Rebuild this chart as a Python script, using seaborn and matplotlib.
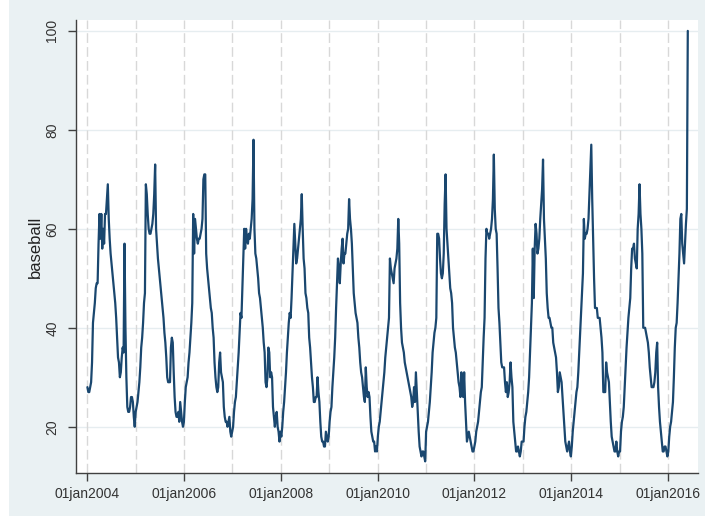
import pandas as pd
import matplotlib
matplotlib.use("Agg")
import matplotlib.pyplot as plt
from matplotlib.patches import Rectangle
import seaborn as sns

# weekly search interest for "baseball", one list per year
y2004 = [28, 27, 27, 28, 29, 33, 41, 43, 45, 48,
         49, 49, 57, 63, 58, 63, 56, 60, 57, 63,
         63, 66, 69, 62, 58, 55, 53, 51, 49, 47,
         45, 42, 38, 34, 33, 30, 31, 34, 36, 35,
         57, 40, 30, 24, 23, 23, 24, 26, 26, 25, 22, 20]
y2005 = [23, 24, 25, 27, 29, 32, 36, 38, 41, 45,
         47, 69, 67, 63, 60, 59, 59, 60, 61, 63,
         67, 73, 60, 57, 54, 52, 50, 48, 46, 44,
         42, 39, 37, 34, 30, 29, 29, 29, 36, 38,
         37, 31, 26, 23, 22, 22, 23, 21, 25, 23, 21, 20]
y2006 = [21, 25, 28, 29, 30, 33, 35, 38, 41, 45,
         63, 55, 62, 60, 58, 57, 58, 58, 59, 60,
         62, 70, 71, 71, 55, 52, 50, 48, 46, 44,
         43, 40, 38, 33, 30, 28, 27, 28, 33, 35,
         31, 30, 29, 24, 22, 21, 21, 20, 21, 22, 19, 18]
y2007 = [20, 23, 25, 26, 29, 32, 35, 39, 43, 42,
         48, 54, 60, 56, 60, 58, 57, 59, 58, 60,
         62, 66, 78, 60, 55, 54, 52, 50, 47, 46,
         44, 42, 40, 37, 35, 29, 28, 30, 36, 35,
         30, 31, 30, 24, 22, 20, 22, 23, 20, 19, 17, 19]
y2008 = [18, 20, 23, 25, 28, 31, 35, 38, 41, 43,
         42, 46, 51, 56, 61, 57, 53, 54, 56, 58,
         60, 62, 67, 60, 54, 52, 47, 46, 44, 43,
         38, 36, 33, 30, 28, 25, 25, 26, 26, 30,
         27, 25, 21, 18, 17, 17, 16, 16, 19, 18, 17, 18]
y2009 = [21, 23, 24, 28, 31, 34, 38, 44, 49, 54,
         52, 49, 53, 56, 58, 53, 55, 55, 57, 59,
         60, 66, 62, 60, 57, 52, 47, 45, 43, 42,
         41, 38, 36, 33, 31, 30, 28, 26, 25, 32,
         28, 26, 27, 26, 22, 19, 18, 17, 17, 15, 16, 15]
y2010 = [18, 20, 21, 23, 25, 27, 29, 31, 34, 36,
         38, 40, 42, 54, 52, 51, 50, 49, 52, 53,
         54, 56, 62, 57, 45, 40, 37, 36, 35, 33,
         32, 31, 30, 29, 28, 27, 26, 24, 25, 28,
         25, 31, 27, 23, 19, 16, 15, 14, 15, 15, 14, 13]
y2011 = [19, 20, 21, 23, 25, 28, 31, 35, 37, 39,
         40, 42, 59, 59, 58, 54, 51, 50, 51, 55,
         65, 71, 60, 57, 54, 51, 48, 47, 45, 40,
         38, 36, 35, 33, 31, 29, 28, 26, 31, 27,
         26, 31, 25, 21, 17, 18, 19, 18, 17, 16, 15, 15]
y2012 = [16, 17, 19, 20, 21, 23, 25, 27, 28, 33,
         38, 42, 54, 60, 59, 59, 58, 59, 60, 62,
         66, 75, 64, 60, 59, 52, 44, 41, 37, 33,
         32, 32, 32, 29, 27, 29, 26, 27, 29, 33,
         30, 28, 21, 19, 17, 15, 15, 16, 15, 14, 15, 17]
y2013 = [17, 20, 22, 23, 25, 27, 30, 35, 40, 45,
         56, 46, 56, 61, 59, 55, 56, 58, 62, 65,
         68, 74, 62, 58, 54, 47, 44, 42, 42, 41,
         40, 40, 37, 36, 35, 34, 31, 27, 28, 31,
         30, 29, 26, 23, 20, 17, 16, 15, 16, 17, 15, 14]
y2014 = [16, 19, 21, 23, 25, 27, 28, 31, 35, 39,
         43, 47, 51, 62, 58, 59, 59, 60, 62, 67,
         72, 77, 66, 58, 50, 44, 44, 44, 42, 42,
         42, 40, 38, 35, 27, 27, 27, 33, 31, 30,
         29, 25, 21, 18, 17, 16, 15, 15, 17, 15, 14, 15]
y2015 = [15, 19, 21, 22, 24, 28, 32, 36, 39, 42,
         44, 46, 52, 56, 56, 57, 54, 53, 52, 60,
         63, 69, 63, 60, 55, 40, 40, 40, 39, 38,
         37, 35, 32, 30, 28, 28, 28, 29, 31, 35,
         37, 28, 24, 21, 19, 17, 15, 15, 16, 16, 15, 14]
y2016 = [15, 18, 20, 21, 23, 25, 30, 36, 40, 41,
         45, 50, 55, 62, 63, 57, 55, 53, 57, 61, 64, 100]

years = list(range(2004, 2017))
series = [y2004, y2005, y2006, y2007, y2008, y2009, y2010,
          y2011, y2012, y2013, y2014, y2015, y2016]

tick_years = [2004, 2006, 2008, 2010, 2012, 2014, 2016]
tick_labels = ["01jan2004", "01jan2006", "01jan2008", "01jan2010",
               "01jan2012", "01jan2014", "01jan2016"]
y_ticks = [20, 40, 60, 80, 100]

frames = []
for yr, vals in zip(years, series):
    dates = pd.date_range(f"{yr}-01-01", periods=len(vals), freq="W-SUN")
    frames.append(pd.DataFrame({"date": dates, "baseball": vals}))
df = pd.concat(frames, ignore_index=True)

sns.set_style("white")
plt.rcParams["font.family"] = ["Liberation Sans", "DejaVu Sans"]

fig = plt.figure(figsize=(7.05, 5.16), dpi=100, facecolor="#eaf1f3")
fig.add_artist(Rectangle((0, 0), 9 / 705, 1, transform=fig.transFigure,
                         facecolor="white", edgecolor="none"))
ax = fig.add_axes([76 / 705, 43 / 516, 622 / 705, 453 / 516])
ax.set_facecolor("white")

# stata-like grid: solid horizontal, dashed yearly verticals
for v in y_ticks:
    ax.axhline(v, color="#e6edf0", lw=1, zorder=1)
for yr in years:
    ax.axvline(pd.Timestamp(f"{yr}-01-01"), color="#d8d8d8", lw=1,
               dashes=(7, 3), zorder=1)

sns.lineplot(data=df, x="date", y="baseball", ax=ax, color="#1a476f",
             lw=1.6, zorder=3)

ax.set_xlim(pd.Timestamp("2003-10-10"), pd.Timestamp("2016-08-14"))
ax.set_ylim(10.65, 102.2)

ax.set_xticks([pd.Timestamp(f"{y}-01-01") for y in tick_years])
ax.set_xticklabels(tick_labels)
ax.set_yticks(y_ticks)
ax.set_yticklabels([str(v) for v in y_ticks], rotation=90, va="center")
ax.tick_params(direction="out", length=6, width=1, color="#404040",
               labelsize=10, labelcolor="#333333", pad=4)
ax.tick_params(axis="y", pad=6)
ax.tick_params(axis="both", which="both", bottom=True, left=True)

ax.set_xlabel("")
ax.set_ylabel("baseball", fontsize=12, color="#222222", labelpad=2)
for s in ["top", "right"]:
    ax.spines[s].set_visible(False)
for s in ["left", "bottom"]:
    ax.spines[s].set_color("#404040")
    ax.spines[s].set_linewidth(1)

fig.savefig("out.png", dpi=100, facecolor=fig.get_facecolor())
